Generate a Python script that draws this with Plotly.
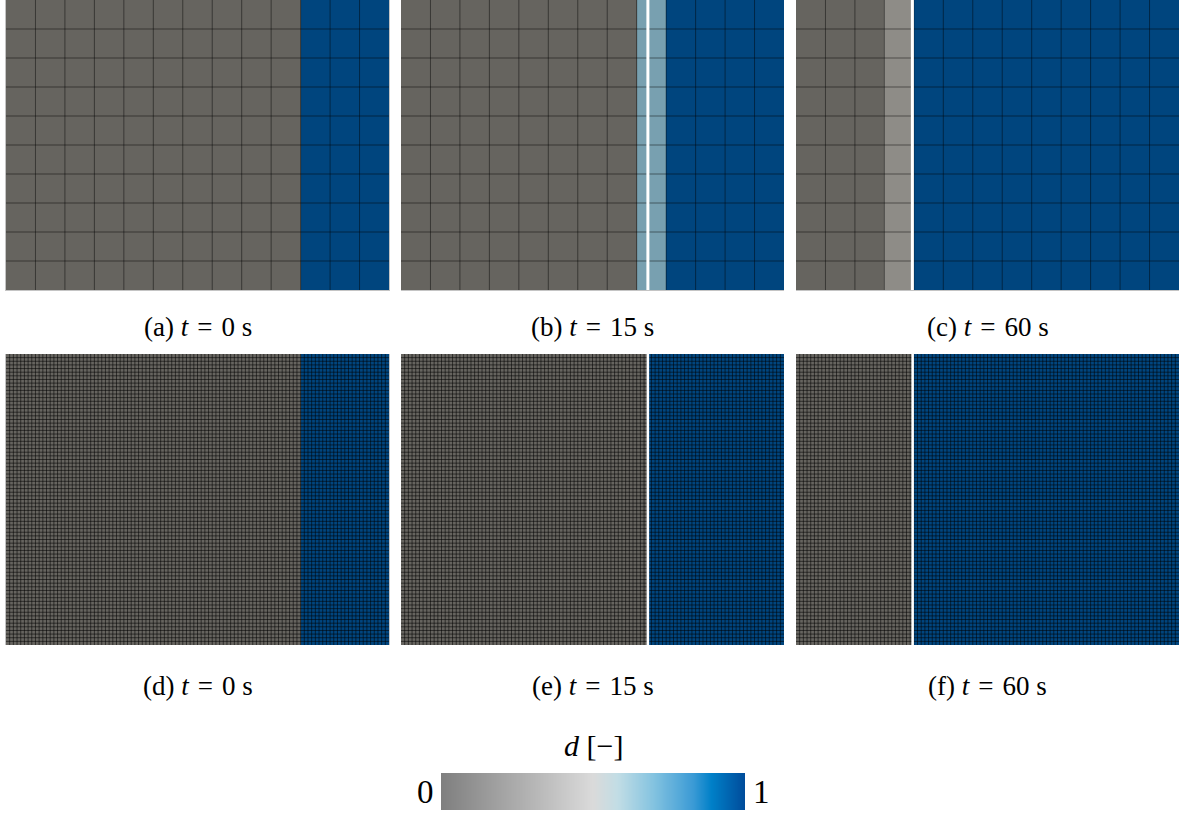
import numpy as np
import plotly.graph_objects as go

# Mesh sizes (coarse mesh: 13 x 10 elements; fine mesh: 8x refinement)
N_COLS = 13
N_ROWS = 10
REFINE = 8

# Damage per element column on the coarse mesh, for t = 0, 15, 60 s
COARSE_D_T0 = [0, 0, 0, 0, 0, 0, 0, 0, 0, 0, 1, 1, 1]
COARSE_D_T15 = [0, 0, 0, 0, 0, 0, 0, 0, 0.68, 1, 1, 1, 1]
COARSE_D_T60 = [0, 0, 0, 0.27, 1, 1, 1, 1, 1, 1, 1, 1, 1]

# Position of the damage front on the fine mesh (in coarse-element units)
FINE_FRONT = [10.0, 8.38, 3.95]

# Crack (opened gap) positions; None = no crack
COARSE_CRACK = [None, 8.38, 3.95]
FINE_CRACK = [None, 8.38, 3.96]

SP = "&nbsp;&#8202;"
CAPTIONS_TOP = [f"(a) <i>t</i>{SP}={SP}0 s",
                f"(b) <i>t</i>{SP}={SP}15 s",
                f"(c) <i>t</i>{SP}={SP}60 s"]
CAPTIONS_BOTTOM = [f"(d) <i>t</i>{SP}={SP}0 s",
                   f"(e) <i>t</i>{SP}={SP}15 s",
                   f"(f) <i>t</i>{SP}={SP}60 s"]

# Colour map of the legend bar
BAR_SCALE = [
    [0.00, "#7f7f7f"],
    [0.25, "#acacac"],
    [0.50, "#dadada"],
    [0.58, "#c2dde5"],
    [0.70, "#84c3e0"],
    [0.83, "#3a9ad5"],
    [0.89, "#0080c8"],
    [1.00, "#004c9b"],
]
# Same map as rendered on the lit surface of the mesh
PANEL_SCALE = [
    [0.00, "#66645f"],
    [0.25, "#8b8984"],
    [0.50, "#adaba6"],
    [0.58, "#9cb0b4"],
    [0.68, "#78a0b0"],
    [0.83, "#2e76a6"],
    [0.89, "#006599"],
    [1.00, "#00457e"],
]

W, H = 1179, 813
COL_X = [(6, 389), (401, 784), (796, 1179)]
ROW_Y = [(0, 290), (354, 645)]


def px_x(a, b):
    return [a / W, b / W]


def px_y(top, bottom):
    return [1 - bottom / H, 1 - top / H]


def grid_lines(nx, ny, sx, sy):
    xs, ys = [], []
    for i in range(1, nx):
        x = i * sx
        xs += [x, x, None]
        ys += [0, N_ROWS, None]
    for j in range(1, ny):
        y = j * sy
        xs += [0, N_COLS, None]
        ys += [y, y, None]
    return xs, ys


fig = go.Figure()
layout = {}

coarse = [COARSE_D_T0, COARSE_D_T15, COARSE_D_T60]
ax = 0
for row in range(2):
    for col in range(3):
        ax += 1
        xa = "x" if ax == 1 else f"x{ax}"
        ya = "y" if ax == 1 else f"y{ax}"
        if row == 0:
            nx, ny = N_COLS, N_ROWS
            z = np.tile(np.array(coarse[col], dtype=float), (ny, 1))
            crack = COARSE_CRACK[col]
            alpha, crack_w = 0.45, 3
        else:
            nx, ny = N_COLS * REFINE, N_ROWS * REFINE
            centers = (np.arange(nx) + 0.5) / REFINE
            z = np.tile((centers > FINE_FRONT[col]).astype(float), (ny, 1))
            crack = FINE_CRACK[col]
            alpha, crack_w = 0.55, 2.5
        xe = np.linspace(0, N_COLS, nx + 1)
        ye = np.linspace(0, N_ROWS, ny + 1)
        fig.add_trace(go.Heatmap(
            z=z, x=xe, y=ye, zmin=0, zmax=1, colorscale=PANEL_SCALE,
            showscale=False, hoverinfo="skip", xaxis=xa, yaxis=ya))
        gx, gy = grid_lines(nx, ny, N_COLS / nx, N_ROWS / ny)
        fig.add_trace(go.Scatter(
            x=gx, y=gy, mode="lines", hoverinfo="skip", showlegend=False,
            line=dict(color=f"rgba(0,0,0,{alpha})", width=1),
            xaxis=xa, yaxis=ya))
        if crack is not None:
            fig.add_trace(go.Scatter(
                x=[crack, crack], y=[0, N_ROWS], mode="lines",
                hoverinfo="skip", showlegend=False,
                line=dict(color="white", width=crack_w),
                xaxis=xa, yaxis=ya))
        key = "" if ax == 1 else str(ax)
        layout["xaxis" + key] = dict(
            domain=px_x(*COL_X[col]), range=[0, N_COLS], showgrid=False,
            zeroline=False, showticklabels=False, ticks="", showline=True,
            linecolor="#c4c4c4", linewidth=1, mirror=True, fixedrange=True)
        layout["yaxis" + key] = dict(
            domain=px_y(*ROW_Y[row]), range=[0, N_ROWS], showgrid=False,
            zeroline=False, showticklabels=False, ticks="", showline=True,
            linecolor="#c4c4c4", linewidth=1, mirror=True, fixedrange=True)

# Legend bar for d
BAR_VALUES = np.linspace(0, 1, 301)
fig.add_trace(go.Heatmap(
    z=[BAR_VALUES], x=BAR_VALUES, y=[0], zmin=0, zmax=1,
    colorscale=BAR_SCALE, showscale=False, hoverinfo="skip",
    xaxis="x7", yaxis="y7"))
layout["xaxis7"] = dict(domain=px_x(441, 745), range=[0, 1], visible=False,
                        fixedrange=True)
layout["yaxis7"] = dict(domain=px_y(773, 810), range=[-0.5, 0.5],
                        visible=False, fixedrange=True)

serif = "Liberation Serif"
ann = []
for col in range(3):
    cx = (COL_X[col][0] + COL_X[col][1]) / 2 / W
    ann.append(dict(x=cx, y=1 - 327 / H, text=CAPTIONS_TOP[col], size=27))
    ann.append(dict(x=cx, y=1 - 686 / H, text=CAPTIONS_BOTTOM[col], size=27))
ann.append(dict(x=593 / W, y=1 - 745 / H, text="<i>d</i> [−]", size=30))
ann.append(dict(x=425 / W, y=1 - 792 / H, text="0", size=33))
ann.append(dict(x=761 / W, y=1 - 792 / H, text="1", size=33))
annotations = []
for a in ann:
    size = a.pop("size")
    a.update(xref="paper", yref="paper", showarrow=False,
             xanchor="center", yanchor="middle",
             font=dict(family=serif, size=size, color="black"))
    annotations.append(a)

fig.update_layout(
    width=W, height=H, margin=dict(l=0, r=0, t=0, b=0),
    paper_bgcolor="white", plot_bgcolor="white", showlegend=False,
    annotations=annotations, **layout)

fig.write_html("out.html")
